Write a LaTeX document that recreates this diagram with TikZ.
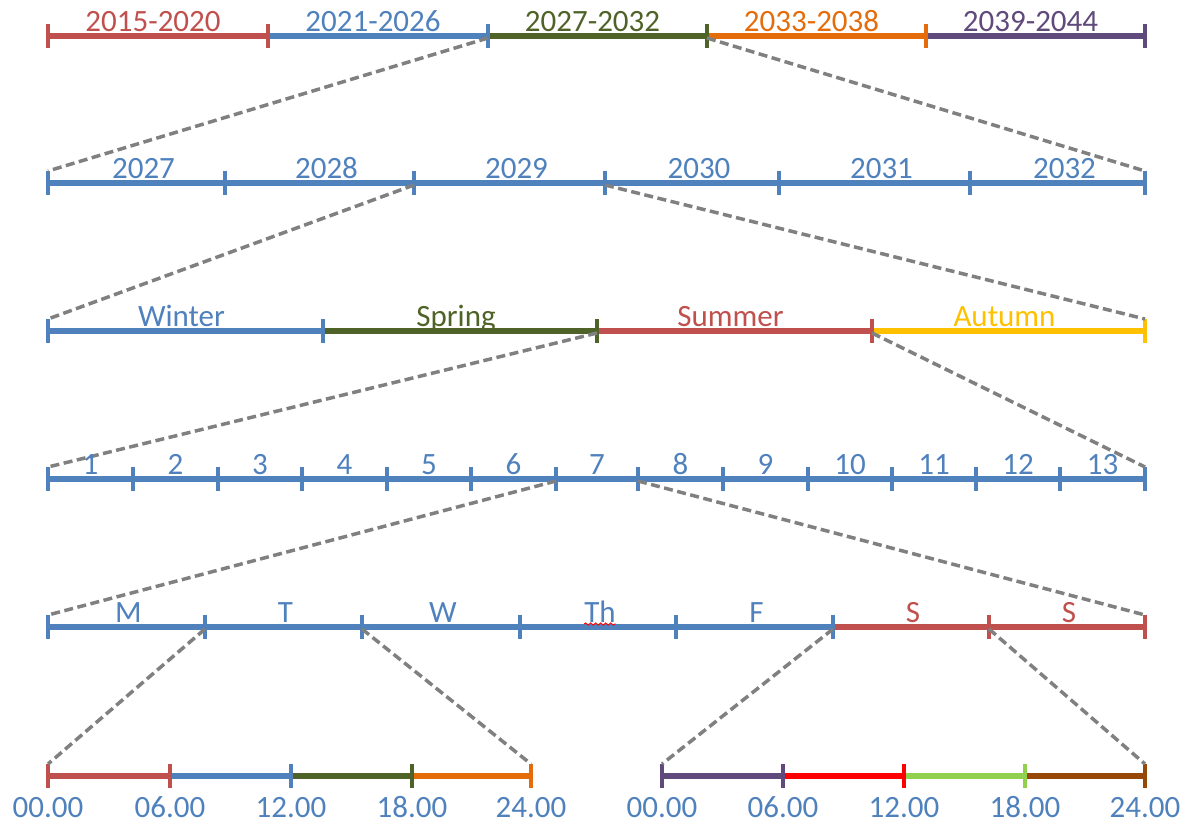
\documentclass[tikz,border=0pt]{standalone}
\usepackage{fontspec}
\setmainfont{Carlito}
\usetikzlibrary{calc,decorations.pathmorphing}
\definecolor{cR}{HTML}{C0504D}
\definecolor{cB}{HTML}{4F81BD}
\definecolor{cG}{HTML}{4F6228}
\definecolor{cO}{HTML}{E46C0A}
\definecolor{cP}{HTML}{604A7B}
\definecolor{cY}{HTML}{FFC000}
\definecolor{cRR}{HTML}{FF0000}
\definecolor{cLG}{HTML}{92D050}
\definecolor{cBr}{HTML}{974806}
\definecolor{cGray}{HTML}{808080}
% one timeline: #1 name, #2 y, #3 ticks as x/colour (colour of the segment ending there)
\newcommand\tlrow[3]{%
  \foreach[count=\i] \x/\c in {#3}{\coordinate (#1-\i) at (\x,#2);}
  \foreach[count=\i] \x/\c in {#3}{%
    \ifnum\i>1
      \pgfmathtruncatemacro\j{\i-1}%
      \draw[seg,color=\c] (#1-\j) -- (#1-\i);
    \fi}
  \foreach[count=\i] \x/\c in {#3}{%
    \draw[tck,color=\c] ([yshift=12pt]#1-\i) -- ([yshift=-12pt]#1-\i);}
}
% labels centred over the segments of a timeline, #3 = horizontal offset
\newcommand\tllabels[3][0]{%
  \foreach[count=\i] \t/\c in {#3}{%
    \pgfmathtruncatemacro\k{\i+1}%
    \node[lbl,text=\c] (#2-l\i) at ($(#2-\i)!.5!(#2-\k)+(#1,-5)$) {\t};}
}
% labels under the ticks of a timeline
\newcommand\ticklabels[2]{%
  \foreach[count=\i] \t in {#2}{%
    \node[lbl,text=cB] (#1-l\i) at ($(#1-\i)+(0,41)$) {\t};}
}
\begin{document}
\begin{tikzpicture}[x=1pt,y=-1pt,
  seg/.style={line width=5.5pt},
  tck/.style={line width=4.5pt},
  lbl/.style={font=\fontsize{31}{36}\selectfont, inner sep=0pt, anchor=base},
  zoomline/.style={draw=cGray, line width=3.5pt, dash pattern=on 9pt off 4.5pt}]
\useasboundingbox (0,0) rectangle (1181,823);

% timelines
\tlrow{r1}{36}{48/cR,268/cR,488/cB,707/cG,926/cO,1145/cP}
\tlrow{r2}{183}{48/cB,225/cB,414/cB,605/cB,779/cB,970/cB,1145/cB}
\tlrow{r3}{331}{48/cB,323/cB,597/cG,872/cR,1145/cY}
\tlrow{r4}{479}{48/cB,133/cB,218/cB,302/cB,387/cB,471/cB,556/cB,638/cB,723/cB,808/cB,892/cB,976/cB,1060/cB,1145/cB}
\tlrow{r5}{627}{48/cB,205/cB,362/cB,520/cB,676/cB,833/cB,989/cR,1145/cR}
\tlrow{r6a}{776}{48/cR,170/cR,291/cB,412/cG,531/cO}
\tlrow{r6b}{776}{662/cP,783/cP,904/cRR,1025/cLG,1145/cBr}

% zoom connectors
\draw[zoomline] ([yshift=-2pt]r1-3) -- ([yshift=12pt]r2-1);
\draw[zoomline] ([yshift=-2pt]r1-4) -- ([yshift=12pt]r2-7);
\draw[zoomline] ([yshift=-2pt]r2-3) -- ([yshift=12pt]r3-1);
\draw[zoomline] ([yshift=-2pt]r2-4) -- ([yshift=12pt]r3-5);
\draw[zoomline] ([yshift=-2pt]r3-3) -- ([yshift=12pt]r4-1);
\draw[zoomline] ([yshift=-2pt]r3-4) -- ([yshift=12pt]r4-14);
\draw[zoomline] ([yshift=-2pt]r4-7) -- ([yshift=12pt]r5-1);
\draw[zoomline] ([yshift=-2pt]r4-8) -- ([yshift=12pt]r5-8);
\draw[zoomline] ([yshift=-2pt]r5-2) -- ([yshift=12pt]r6a-1);
\draw[zoomline] ([yshift=-2pt]r5-3) -- ([yshift=12pt]r6a-5);
\draw[zoomline] ([yshift=-2pt]r5-6) -- ([yshift=12pt]r6b-1);
\draw[zoomline] ([yshift=-2pt]r5-7) -- ([yshift=12pt]r6b-5);

% labels
\tllabels[-5]{r1}{2015-2020/cR,2021-2026/cB,2027-2032/cG,2033-2038/cO,2039-2044/cP}
\tllabels[7]{r2}{2027/cB,2028/cB,2029/cB,2030/cB,2031/cB,2032/cB}
\tllabels[-4]{r3}{Winter/cB,Spring/cG,Summer/cR,Autumn/cY}
\tllabels{r4}{1/cB,2/cB,3/cB,4/cB,5/cB,6/cB,7/cB,8/cB,9/cB,10/cB,11/cB,12/cB,13/cB}
\tllabels[2]{r5}{M/cB,T/cB,W/cB,Th/cB,F/cB,S/cR,S/cR}
\ticklabels{r6a}{00.00,06.00,12.00,18.00,24.00}
\ticklabels{r6b}{00.00,06.00,12.00,18.00,24.00}

% spell-check squiggle under "Th"
\draw[cRR, line width=0.9pt, decorate,
      decoration={snake, amplitude=1.1pt, segment length=5pt}]
  ([yshift=-2pt]r5-l4.base west) -- ([yshift=-2pt]r5-l4.base east);
\end{tikzpicture}
\end{document}
